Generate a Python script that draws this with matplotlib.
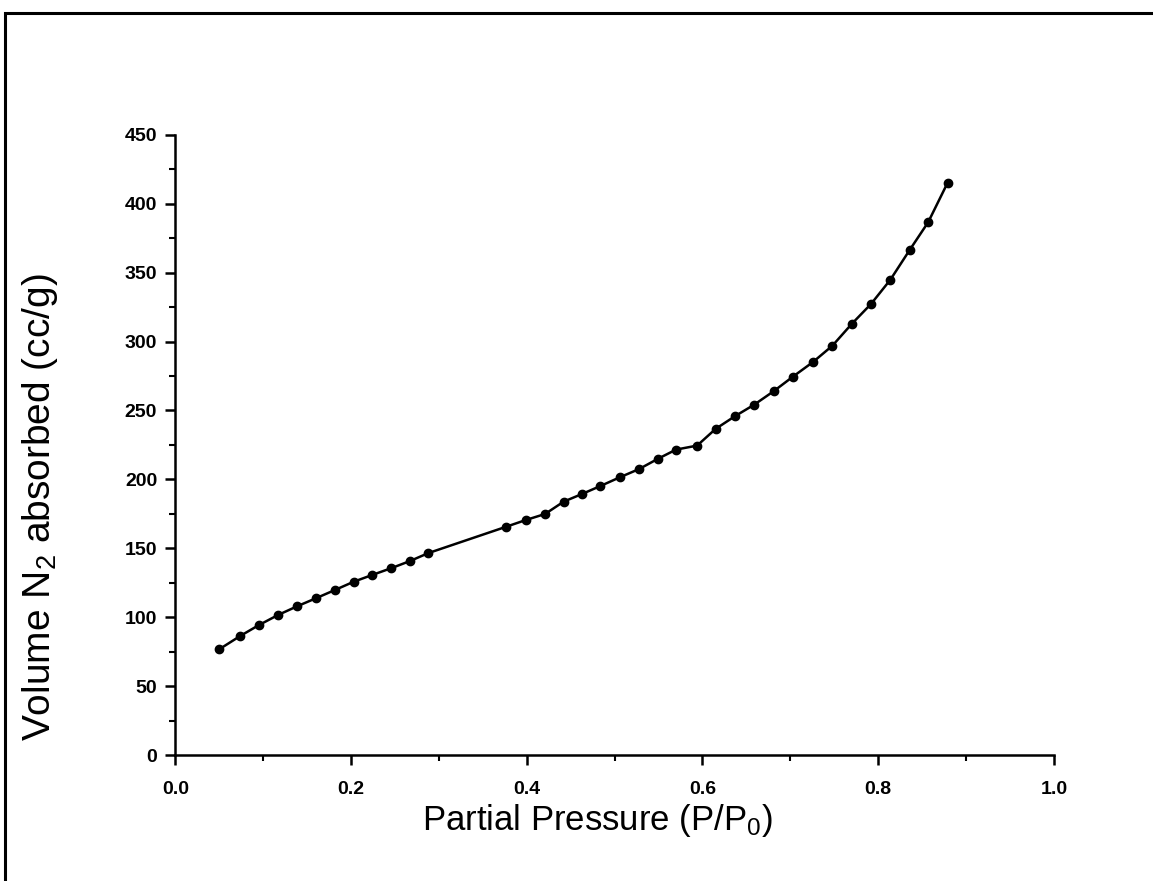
# N2 adsorption isotherm
import matplotlib
matplotlib.use('Agg')
import matplotlib.pyplot as plt
from matplotlib.patches import Rectangle
from matplotlib.ticker import MultipleLocator

plt.rcParams['font.family'] = ['Liberation Sans', 'DejaVu Sans']
plt.rcParams['mathtext.fontset'] = 'custom'
plt.rcParams['mathtext.rm'] = 'Liberation Sans'
plt.rcParams['mathtext.it'] = 'Liberation Sans'

# Data
pressure = [0.050, 0.074, 0.095, 0.117, 0.139, 0.160, 0.182, 0.203, 0.224, 0.246,
            0.267, 0.288, 0.377, 0.399, 0.421, 0.442, 0.463, 0.484, 0.506, 0.528,
            0.549, 0.570, 0.594, 0.615, 0.637, 0.659, 0.681, 0.703, 0.726, 0.748,
            0.770, 0.792, 0.814, 0.836, 0.857, 0.879]
volume = [76.7, 86.4, 94.2, 101.6, 108.0, 113.7, 119.8, 125.7, 130.6, 135.6,
          140.7, 146.5, 165.7, 170.5, 174.9, 183.8, 189.4, 195.2, 201.5, 207.5,
          214.8, 221.6, 224.5, 236.6, 245.8, 254.2, 263.9, 274.5, 285.2, 297.0,
          312.8, 327.3, 344.9, 366.5, 386.6, 415.1]

fig = plt.figure(figsize=(11.53, 8.81), dpi=100)
ax = fig.add_axes([0.152, 0.143, 0.762, 0.704])

ax.plot(pressure, volume, color='black', lw=1.8, marker='o', markersize=6)

ax.set_xlim(0, 1.0)
ax.set_ylim(0, 450)
ax.xaxis.set_major_locator(MultipleLocator(0.2))
ax.xaxis.set_minor_locator(MultipleLocator(0.1))
ax.yaxis.set_major_locator(MultipleLocator(50))
ax.yaxis.set_minor_locator(MultipleLocator(25))
ax.xaxis.set_major_formatter(plt.FormatStrFormatter('%.1f'))

for s in ['top', 'right']:
    ax.spines[s].set_visible(False)
for s in ['left', 'bottom']:
    ax.spines[s].set_linewidth(1.8)

ax.tick_params(which='major', direction='out', length=7, width=1.8, labelsize=14)
ax.tick_params(which='minor', direction='out', length=4, width=1.5)
ax.tick_params(axis='x', which='major', pad=12)
ax.tick_params(axis='y', which='major', pad=6)
for lab in ax.get_xticklabels() + ax.get_yticklabels():
    lab.set_fontweight('bold')

ax.set_xlabel('Partial Pressure (P/P$_0$)', fontsize=25)
ax.set_ylabel('Volume N$_2$ absorbed (cc/g)', fontsize=28)
ax.xaxis.set_label_coords(0.48, -0.075)
ax.yaxis.set_label_coords(-0.131, 0.40)

# outer frame
fig.add_artist(Rectangle((0.004, -0.1), 1.2, 1.085, transform=fig.transFigure,
                         fill=False, lw=2.2, color='black'))

fig.savefig('out.png', dpi=100)
